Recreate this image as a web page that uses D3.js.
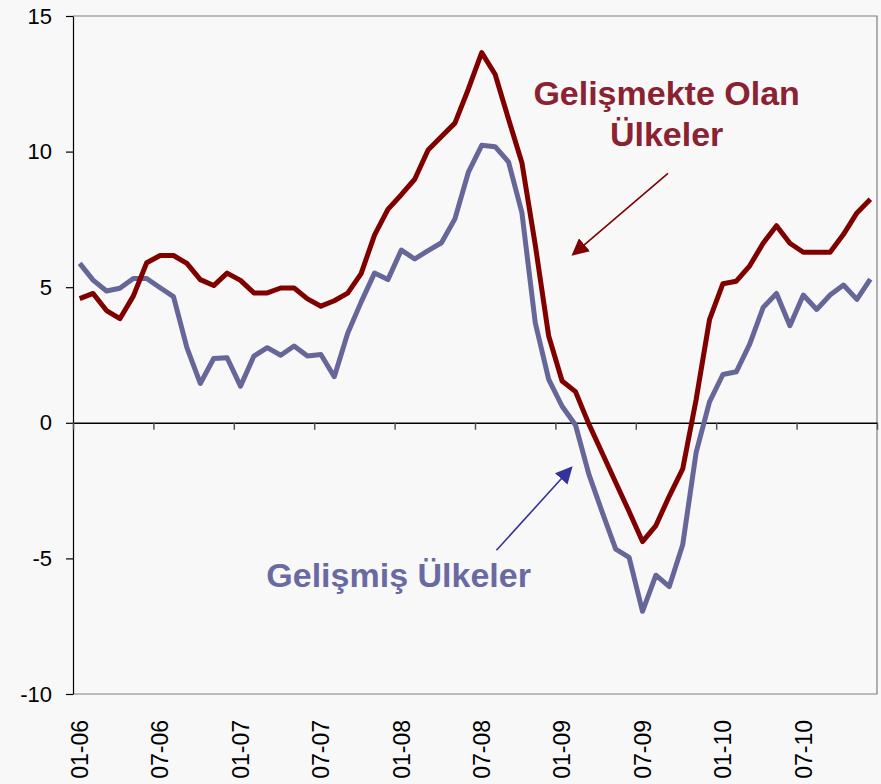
<!DOCTYPE html>
<html>
<head>
<meta charset="utf-8">
<script src="https://cdn.jsdelivr.net/npm/d3@7"></script>
<style>
  html, body { margin: 0; padding: 0; background: #f8f8f8; }
  svg { display: block; font-family: Arial, "Liberation Sans", sans-serif; }
</style>
</head>
<body>
<svg id="chart" width="881" height="784"></svg>
<script>
// monthly categories 01-06 .. 12-10
const months = [];
["06", "07", "08", "09", "10"].forEach(yy => {
    for (let m = 1; m <= 12; m++) months.push(String(m).padStart(2, "0") + "-" + yy);
});

// Gelişmiş Ülkeler (developed)
const developed = [
    5.88, 5.26, 4.86, 4.96, 5.32, 5.32, 4.98, 4.65, 2.77, 1.45, 2.37, 2.40,
    1.35, 2.46, 2.77, 2.49, 2.83, 2.46, 2.52, 1.70, 3.30, 4.45, 5.52, 5.28,
    6.37, 6.04, 6.35, 6.64, 7.52, 9.23, 10.23, 10.18, 9.62, 7.75, 3.68, 1.60,
    0.61, -0.08, -1.90, -3.30, -4.66, -4.96, -6.95, -5.62, -6.04, -4.50,
    -1.10, 0.77, 1.78, 1.88, 2.90, 4.25, 4.77, 3.58, 4.71, 4.18, 4.71, 5.08, 4.55, 5.30
];

// Gelişmekte Olan Ülkeler (emerging)
const emerging = [
    4.58, 4.77, 4.14, 3.84, 4.67, 5.90, 6.17, 6.17, 5.88, 5.28, 5.06, 5.52,
    5.25, 4.79, 4.79, 4.97, 4.97, 4.57, 4.30, 4.50, 4.78, 5.50, 6.92, 7.87,
    8.41, 8.98, 10.06, 10.56, 11.05, 12.30, 13.65, 12.85, 11.20, 9.59, 6.55, 3.20,
    1.54, 1.15, -0.05, -1.12, -2.20, -3.27, -4.38, -3.79, -2.70, -1.70,
    0.85, 3.80, 5.13, 5.22, 5.79, 6.62, 7.27, 6.62, 6.29, 6.29, 6.29, 6.95, 7.74, 8.24
];

const yTicks = [-10, -5, 0, 5, 10, 15];
const labelMonths = months.filter((d, i) => i % 6 === 0);

const svg = d3.select("#chart");
const plotLeft = 73, plotRight = 877, plotTop = 16, plotBottom = 694;

// category centres
const x = d3.scaleLinear()
    .domain([-0.5, months.length - 0.5])
    .range([plotLeft, plotRight]);

const y = d3.scaleLinear()
    .domain([-10, 15])
    .range([plotBottom, plotTop]);

// frame (top, right, bottom)
svg.append("path")
    .attr("d", `M${plotLeft},${plotTop}H${plotRight}V${plotBottom}H${plotLeft}`)
    .attr("fill", "none")
    .attr("stroke", "#7f7f7f")
    .attr("stroke-width", 1.2);

// y axis
const yAxis = svg.append("g")
    .attr("transform", `translate(${plotLeft},0)`)
    .call(d3.axisLeft(y)
        .tickValues(yTicks)
        .tickFormat(d => String(d))
        .tickSize(7).tickPadding(14).tickSizeOuter(0));
yAxis.select(".domain").attr("stroke", "#000").attr("stroke-width", 1.2);
yAxis.selectAll(".tick line").attr("stroke", "#000").attr("stroke-width", 1.2);
yAxis.selectAll("text")
    .attr("font-size", "22px")
    .attr("fill", "#000")
    .attr("font-family", "Arial, 'Liberation Sans', sans-serif");

// zero line with ticks every 6 months on category boundaries
const zeroAxis = svg.append("g")
    .attr("transform", `translate(0,${y(0)})`)
    .call(d3.axisBottom(x)
        .tickValues(d3.range(-0.5, months.length, 6))
        .tickSize(7)
        .tickSizeOuter(0)
        .tickFormat(""));
zeroAxis.select(".domain").attr("stroke", "#000").attr("stroke-width", 1.5);
zeroAxis.selectAll(".tick line").attr("stroke", "#555").attr("stroke-width", 1.5);

// category labels at the bottom, rotated
svg.append("g")
    .selectAll("text")
    .data(labelMonths)
    .join("text")
    .attr("transform", d => `translate(${x(months.indexOf(d))},720) rotate(-90)`)
    .attr("text-anchor", "end")
    .attr("dy", "0.36em")
    .attr("font-size", "23px")
    .attr("fill", "#000")
    .text(d => d);

const line = d3.line()
    .x((d, i) => x(i))
    .y(d => y(d));

svg.append("path")
    .datum(developed)
    .attr("fill", "none")
    .attr("stroke", "#666699")
    .attr("stroke-width", 5)
    .attr("stroke-linejoin", "round")
    .attr("d", line);

svg.append("path")
    .datum(emerging)
    .attr("fill", "none")
    .attr("stroke", "#800000")
    .attr("stroke-width", 5)
    .attr("stroke-linejoin", "round")
    .attr("d", line);

// arrows
const defs = svg.append("defs");
[["red-head", "#800000"], ["blue-head", "#333399"]].forEach(([id, c]) => {
    defs.append("marker")
        .attr("id", id)
        .attr("viewBox", "0 0 10 10")
        .attr("refX", 9).attr("refY", 5)
        .attr("markerWidth", 17).attr("markerHeight", 17)
        .attr("markerUnits", "userSpaceOnUse")
        .attr("orient", "auto")
        .append("path")
        .attr("d", "M0,0L10,5L0,10z")
        .attr("fill", c);
});

svg.append("line")
    .attr("x1", x(43.9)).attr("y1", y(9.2))
    .attr("x2", x(36.8)).attr("y2", y(6.2))
    .attr("stroke", "#800000")
    .attr("stroke-width", 1.6)
    .attr("marker-end", "url(#red-head)");

svg.append("line")
    .attr("x1", x(31.1)).attr("y1", y(-4.7))
    .attr("x2", x(36.7)).attr("y2", y(-1.65))
    .attr("stroke", "#333399")
    .attr("stroke-width", 1.6)
    .attr("marker-end", "url(#blue-head)");

// series labels
const redLabel = svg.append("text")
    .attr("text-anchor", "middle")
    .attr("font-size", "34px")
    .attr("font-weight", "bold")
    .attr("fill", "#8b2232");
redLabel.append("tspan").attr("x", x(43.8)).attr("y", y(11.7)).text("Gelişmekte Olan");
redLabel.append("tspan").attr("x", x(43.8)).attr("y", y(10.2)).text("Ülkeler");

svg.append("text")
    .attr("x", x(23.8))
    .attr("y", y(-6.05))
    .attr("text-anchor", "middle")
    .attr("font-size", "34px")
    .attr("font-weight", "bold")
    .attr("fill", "#6a6aa2")
    .text("Gelişmiş Ülkeler");
</script>
</body>
</html>
